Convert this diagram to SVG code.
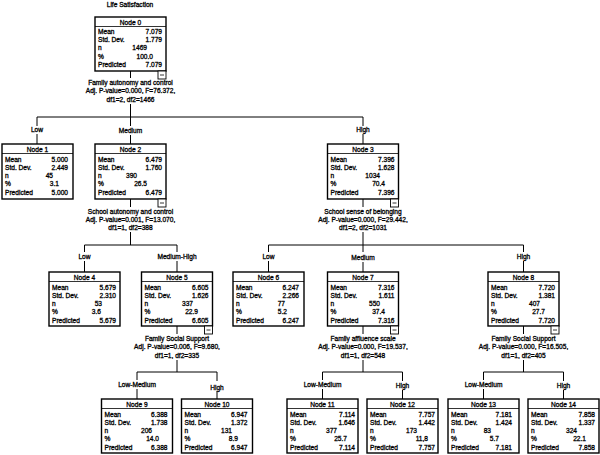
<svg xmlns="http://www.w3.org/2000/svg" width="600" height="455" viewBox="0 0 600 455">
<style>
text{font-family:"Liberation Sans",Arial,sans-serif;font-size:6.6px;fill:#000;stroke:#000;stroke-width:0.3}
.m{text-anchor:middle}
.r{text-anchor:end}
.box{fill:#fff;stroke:#000;stroke-width:1.4}
.hl{stroke:#000;stroke-width:0.8}
.ln{stroke:#000;stroke-width:1;fill:none}
.mi{fill:#fff;stroke:#000;stroke-width:0.9}
</style>
<rect width="600" height="455" fill="#fff"/>
<text class="m" x="130" y="7">Life Satisfaction</text>

<g id="connectors" class="ln">
<path d="M130.5 71V78M130.5 104V117M37 117H363"/>
<path d="M37 117V126M37 134V144M130.5 117V126M130.5 135V144M363 117V126M363 134V144"/>
<path d="M130.5 199V207M130.5 232V245M84.5 245H177"/>
<path d="M363 199V207M363 232V245M268.5 245H523.5"/>
<path d="M84.5 245V252M84.5 261V272M177 245V252M177 261V272M268.5 245V252M268.5 261V272M363 245V252M363 262V272M523.5 245V252M523.5 261V272"/>
<path d="M177 326V334M177 360V372M137 372H217"/>
<path d="M363 326V334M363 360V372M322.5 372H402.5"/>
<path d="M523.5 326V334M523.5 360V372M483.5 372H563.5"/>
<path d="M137 372V380M137 389V399M217 372V381M217 391V399M322.5 372V380M322.5 389V399M402.5 372V381M402.5 390V399M483.5 372V380M483.5 389V399M563.5 372V381M563.5 390V399"/>
</g>

<g id="labels">
<text class="m" x="130.5" y="85">Family autonomy and control</text>
<text class="m" x="130.5" y="93">Adj. P-value=0.000, F=76.372,</text>
<text class="m" x="130.5" y="101.5">df1=2, df2=1466</text>
<text class="m" x="37" y="132">Low</text>
<text class="m" x="130.5" y="133">Medium</text>
<text class="m" x="363" y="131.5">High</text>
<text class="m" x="130.5" y="214">School autonomy and control</text>
<text class="m" x="130.5" y="222">Adj. P-value=0.001, F=13.070,</text>
<text class="m" x="130.5" y="230">df1=1, df2=388</text>
<text class="m" x="363" y="214">School sense of belonging</text>
<text class="m" x="363" y="222">Adj. P-value=0.000, F=29.442,</text>
<text class="m" x="363" y="230">df1=2, df2=1031</text>
<text class="m" x="84.5" y="258.5">Low</text>
<text class="m" x="177" y="258.5">Medium-High</text>
<text class="m" x="268.5" y="258.5">Low</text>
<text class="m" x="363" y="260">Medium</text>
<text class="m" x="523.5" y="258.5">High</text>
<text class="m" x="177" y="341">Family Social Support</text>
<text class="m" x="177" y="349">Adj. P-value=0.006, F=9.680,</text>
<text class="m" x="177" y="357.5">df1=1, df2=335</text>
<text class="m" x="363" y="341">Family affluence scale</text>
<text class="m" x="363" y="349">Adj. P-value=0.000, F=19.537,</text>
<text class="m" x="363" y="357.5">df1=1, df2=548</text>
<text class="m" x="523.5" y="341">Family Social Support</text>
<text class="m" x="523.5" y="349">Adj. P-value=0.000, F=16.505,</text>
<text class="m" x="523.5" y="357.5">df1=1, df2=405</text>
<text class="m" x="137" y="387">Low-Medium</text>
<text class="m" x="217" y="389.5">High</text>
<text class="m" x="322.5" y="387">Low-Medium</text>
<text class="m" x="402.5" y="388">High</text>
<text class="m" x="483.5" y="387">Low-Medium</text>
<text class="m" x="563.5" y="388">High</text>
</g>

<g id="node0" transform="translate(95,17)">
<rect class="box" width="71" height="54"/><line class="hl" x1="0" y1="9.5" x2="71" y2="9.5"/>
<text class="m" x="35.5" y="7.5">Node 0</text>
<text x="3" y="17">Mean</text><text class="r" x="67" y="17">7.079</text>
<text x="3" y="25">Std. Dev.</text><text class="r" x="67" y="25">1.779</text>
<text x="3" y="33">n</text><text class="r" x="52" y="33">1469</text>
<text x="3" y="41.5">%</text><text class="r" x="58" y="41.5">100.0</text>
<text x="3" y="50">Predicted</text><text class="r" x="67" y="50">7.079</text>
<rect class="mi" x="63" y="54" width="8" height="8"/><line class="hl" x1="65" y1="58" x2="69" y2="58"/>
</g>

<g id="node1" transform="translate(2,144)">
<rect class="box" width="71" height="55"/><line class="hl" x1="0" y1="9.5" x2="71" y2="9.5"/>
<text class="m" x="35.5" y="7.5">Node 1</text>
<text x="3" y="17.5">Mean</text><text class="r" x="66" y="17.5">5.000</text>
<text x="3" y="25.5">Std. Dev.</text><text class="r" x="66" y="25.5">2.449</text>
<text x="3" y="33.5">n</text><text class="r" x="51" y="33.5">45</text>
<text x="3" y="42">%</text><text class="r" x="57" y="42">3.1</text>
<text x="3" y="50.5">Predicted</text><text class="r" x="66" y="50.5">5.000</text>
</g>

<g id="node2" transform="translate(95,144)">
<rect class="box" width="71" height="55"/><line class="hl" x1="0" y1="9.5" x2="71" y2="9.5"/>
<text class="m" x="35.5" y="7.5">Node 2</text>
<text x="3" y="17.5">Mean</text><text class="r" x="67" y="17.5">6.479</text>
<text x="3" y="25.5">Std. Dev.</text><text class="r" x="67" y="25.5">1.760</text>
<text x="3" y="33.5">n</text><text class="r" x="42" y="33.5">390</text>
<text x="3" y="42">%</text><text class="r" x="52" y="42">26.5</text>
<text x="3" y="50.5">Predicted</text><text class="r" x="67" y="50.5">6.479</text>
<rect class="mi" x="63" y="55" width="8" height="8"/><line class="hl" x1="65" y1="59" x2="69" y2="59"/>
</g>

<g id="node3" transform="translate(327.5,144)">
<rect class="box" width="71" height="55"/><line class="hl" x1="0" y1="9.5" x2="71" y2="9.5"/>
<text class="m" x="35.5" y="7.5">Node 3</text>
<text x="3" y="17.5">Mean</text><text class="r" x="67" y="17.5">7.396</text>
<text x="3" y="25.5">Std. Dev.</text><text class="r" x="67" y="25.5">1.628</text>
<text x="3" y="33.5">n</text><text class="r" x="52.5" y="33.5">1034</text>
<text x="3" y="42">%</text><text class="r" x="57.5" y="42">70.4</text>
<text x="3" y="50.5">Predicted</text><text class="r" x="67" y="50.5">7.396</text>
<rect class="mi" x="63" y="55" width="8" height="8"/><line class="hl" x1="65" y1="59" x2="69" y2="59"/>
</g>

<g id="node4" transform="translate(49,272)">
<rect class="box" width="71" height="54"/><line class="hl" x1="0" y1="9.5" x2="71" y2="9.5"/>
<text class="m" x="35.5" y="7.5">Node 4</text>
<text x="3" y="17.5">Mean</text><text class="r" x="67" y="17.5">5.679</text>
<text x="3" y="25.5">Std. Dev.</text><text class="r" x="67" y="25.5">2.310</text>
<text x="3" y="33.5">n</text><text class="r" x="53" y="33.5">53</text>
<text x="3" y="42">%</text><text class="r" x="52" y="42">3.6</text>
<text x="3" y="50.5">Predicted</text><text class="r" x="67" y="50.5">5.679</text>
</g>

<g id="node5" transform="translate(141.5,272)">
<rect class="box" width="71" height="54"/><line class="hl" x1="0" y1="9.5" x2="71" y2="9.5"/>
<text class="m" x="35.5" y="7.5">Node 5</text>
<text x="3" y="17.5">Mean</text><text class="r" x="67" y="17.5">6.605</text>
<text x="3" y="25.5">Std. Dev.</text><text class="r" x="67" y="25.5">1.626</text>
<text x="3" y="33.5">n</text><text class="r" x="51.5" y="33.5">337</text>
<text x="3" y="42">%</text><text class="r" x="56.5" y="42">22.9</text>
<text x="3" y="50.5">Predicted</text><text class="r" x="67" y="50.5">6.605</text>
<rect class="mi" x="63" y="54" width="8" height="8"/><line class="hl" x1="65" y1="58" x2="69" y2="58"/>
</g>

<g id="node6" transform="translate(233,272)">
<rect class="box" width="71" height="54"/><line class="hl" x1="0" y1="9.5" x2="71" y2="9.5"/>
<text class="m" x="35.5" y="7.5">Node 6</text>
<text x="3" y="17.5">Mean</text><text class="r" x="66" y="17.5">6.247</text>
<text x="3" y="25.5">Std. Dev.</text><text class="r" x="66" y="25.5">2.266</text>
<text x="3" y="33.5">n</text><text class="r" x="52" y="33.5">77</text>
<text x="3" y="42">%</text><text class="r" x="54" y="42">5.2</text>
<text x="3" y="50.5">Predicted</text><text class="r" x="66" y="50.5">6.247</text>
</g>

<g id="node7" transform="translate(327.5,272)">
<rect class="box" width="71" height="54"/><line class="hl" x1="0" y1="9.5" x2="71" y2="9.5"/>
<text class="m" x="35.5" y="7.5">Node 7</text>
<text x="3" y="17.5">Mean</text><text class="r" x="67" y="17.5">7.316</text>
<text x="3" y="25.5">Std. Dev.</text><text class="r" x="67" y="25.5">1.611</text>
<text x="3" y="33.5">n</text><text class="r" x="52.5" y="33.5">550</text>
<text x="3" y="42">%</text><text class="r" x="57.5" y="42">37.4</text>
<text x="3" y="50.5">Predicted</text><text class="r" x="67" y="50.5">7.316</text>
<rect class="mi" x="63" y="54" width="8" height="8"/><line class="hl" x1="65" y1="58" x2="69" y2="58"/>
</g>

<g id="node8" transform="translate(488,272)">
<rect class="box" width="71" height="54"/><line class="hl" x1="0" y1="9.5" x2="71" y2="9.5"/>
<text class="m" x="35.5" y="7.5">Node 8</text>
<text x="3" y="17.5">Mean</text><text class="r" x="67" y="17.5">7.720</text>
<text x="3" y="25.5">Std. Dev.</text><text class="r" x="67" y="25.5">1.381</text>
<text x="3" y="33.5">n</text><text class="r" x="52" y="33.5">407</text>
<text x="3" y="42">%</text><text class="r" x="57" y="42">27.7</text>
<text x="3" y="50.5">Predicted</text><text class="r" x="67" y="50.5">7.720</text>
<rect class="mi" x="63" y="54" width="8" height="8"/><line class="hl" x1="65" y1="58" x2="69" y2="58"/>
</g>

<g id="node9" transform="translate(101.5,399)">
<rect class="box" width="71" height="54"/><line class="hl" x1="0" y1="9.5" x2="71" y2="9.5"/>
<text class="m" x="35.5" y="7.5">Node 9</text>
<text x="3" y="17.5">Mean</text><text class="r" x="66" y="17.5">6.388</text>
<text x="3" y="25.5">Std. Dev.</text><text class="r" x="66" y="25.5">1.738</text>
<text x="3" y="33.5">n</text><text class="r" x="50.5" y="33.5">206</text>
<text x="3" y="42">%</text><text class="r" x="57.5" y="42">14.0</text>
<text x="3" y="50.5">Predicted</text><text class="r" x="66" y="50.5">6.388</text>
</g>

<g id="node10" transform="translate(181.5,399)">
<rect class="box" width="71" height="54"/><line class="hl" x1="0" y1="9.5" x2="71" y2="9.5"/>
<text class="m" x="35.5" y="7.5">Node 10</text>
<text x="3" y="17.5">Mean</text><text class="r" x="66" y="17.5">6.947</text>
<text x="3" y="25.5">Std. Dev.</text><text class="r" x="66" y="25.5">1.372</text>
<text x="3" y="33.5">n</text><text class="r" x="50.5" y="33.5">131</text>
<text x="3" y="42">%</text><text class="r" x="56.5" y="42">8.9</text>
<text x="3" y="50.5">Predicted</text><text class="r" x="66" y="50.5">6.947</text>
</g>

<g id="node11" transform="translate(287,399)">
<rect class="box" width="71" height="54"/><line class="hl" x1="0" y1="9.5" x2="71" y2="9.5"/>
<text class="m" x="35.5" y="7.5">Node 11</text>
<text x="3" y="17.5">Mean</text><text class="r" x="68" y="17.5">7.114</text>
<text x="3" y="25.5">Std. Dev.</text><text class="r" x="68" y="25.5">1.646</text>
<text x="3" y="33.5">n</text><text class="r" x="50" y="33.5">377</text>
<text x="3" y="42">%</text><text class="r" x="60" y="42">25.7</text>
<text x="3" y="50.5">Predicted</text><text class="r" x="68" y="50.5">7.114</text>
</g>

<g id="node12" transform="translate(367,399)">
<rect class="box" width="71" height="54"/><line class="hl" x1="0" y1="9.5" x2="71" y2="9.5"/>
<text class="m" x="35.5" y="7.5">Node 12</text>
<text x="3" y="17.5">Mean</text><text class="r" x="68" y="17.5">7.757</text>
<text x="3" y="25.5">Std. Dev.</text><text class="r" x="68" y="25.5">1.442</text>
<text x="3" y="33.5">n</text><text class="r" x="50" y="33.5">173</text>
<text x="3" y="42">%</text><text class="r" x="61" y="42">11,8</text>
<text x="3" y="50.5">Predicted</text><text class="r" x="68" y="50.5">7.757</text>
</g>

<g id="node13" transform="translate(448,399)">
<rect class="box" width="71" height="54"/><line class="hl" x1="0" y1="9.5" x2="71" y2="9.5"/>
<text class="m" x="35.5" y="7.5">Node 13</text>
<text x="3" y="17.5">Mean</text><text class="r" x="64" y="17.5">7.181</text>
<text x="3" y="25.5">Std. Dev.</text><text class="r" x="64" y="25.5">1.424</text>
<text x="3" y="33.5">n</text><text class="r" x="43" y="33.5">83</text>
<text x="3" y="42">%</text><text class="r" x="51" y="42">5.7</text>
<text x="3" y="50.5">Predicted</text><text class="r" x="64" y="50.5">7.181</text>
</g>

<g id="node14" transform="translate(528,399)">
<rect class="box" width="71" height="54"/><line class="hl" x1="0" y1="9.5" x2="71" y2="9.5"/>
<text class="m" x="35.5" y="7.5">Node 14</text>
<text x="3" y="17.5">Mean</text><text class="r" x="67" y="17.5">7.858</text>
<text x="3" y="25.5">Std. Dev.</text><text class="r" x="67" y="25.5">1.337</text>
<text x="3" y="33.5">n</text><text class="r" x="49" y="33.5">324</text>
<text x="3" y="42">%</text><text class="r" x="58" y="42">22.1</text>
<text x="3" y="50.5">Predicted</text><text class="r" x="67" y="50.5">7.858</text>
</g>
</svg>
